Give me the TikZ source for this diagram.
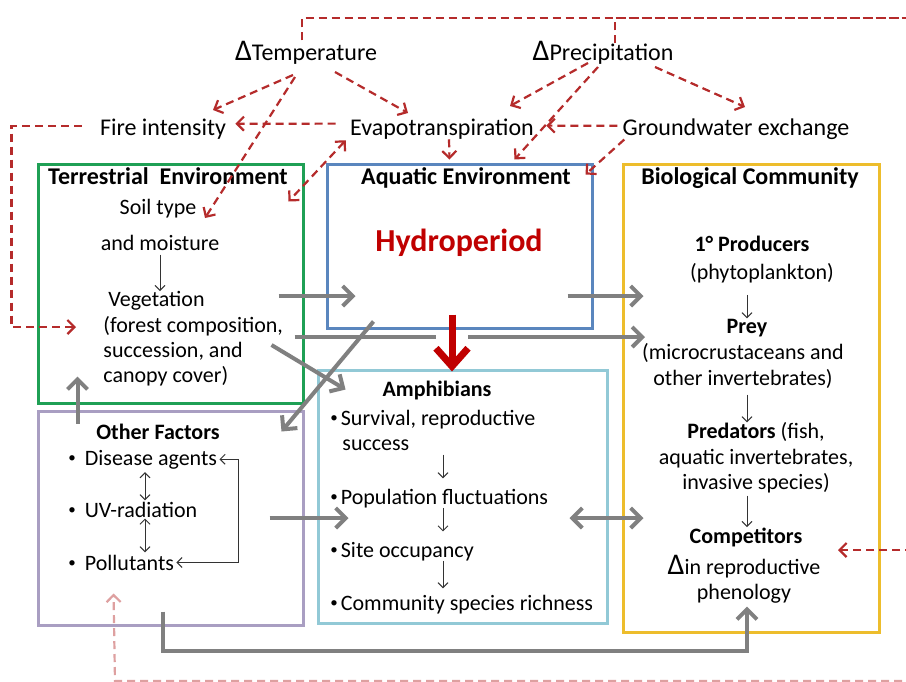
\documentclass[tikz,border=0pt]{standalone}
\usepackage{fontspec}
\setmainfont{Carlito}
\usetikzlibrary{arrows.meta, calc, fit}
\definecolor{dashred}{HTML}{B52B2B}
\definecolor{hydrored}{HTML}{C00000}
\definecolor{arrgray}{HTML}{808080}
\definecolor{terrgreen}{HTML}{1FA055}
\definecolor{aquablue}{HTML}{5A86BE}
\definecolor{biolyellow}{HTML}{EDBD2C}
\definecolor{amphcyan}{HTML}{92C9D6}
\definecolor{othpurple}{HTML}{A99EC2}
\newcommand{\chg}{{\fontsize{15}{15}\selectfont Δ}}
\newcommand{\itm}{\raisebox{0.25ex}{\fontsize{7.5}{7.5}\selectfont •}}

\begin{document}
\begin{tikzpicture}[x=0.5pt, y=-0.5pt,
    frm/.style={rectangle, line width=1.5pt, inner sep=0pt},
    lbl/.style={inner sep=0pt, anchor=base, font=\fontsize{12}{14}\selectfont},
    txt/.style={inner sep=0pt, anchor=base, font=\fontsize{11}{13}\selectfont},
    blk/.style={inner sep=0pt, align=center, font=\fontsize{11}{12.7}\selectfont},
    ttl/.style={inner sep=0pt, anchor=base, font=\fontsize{12}{14}\selectfont\bfseries},
    sub/.style={inner sep=0pt, anchor=base, font=\fontsize{11}{13}\selectfont\bfseries},
    rdash/.style={-{Straight Barb[length=3.5pt,width=7pt]}, dash pattern=on 4pt off 2.5pt, line width=1.1pt, dashred},
    garr/.style={-{Straight Barb[length=5pt,width=10pt]}, line width=2pt, arrgray},
    tarr/.style={-{Straight Barb[length=2.5pt,width=5pt]}, line width=0.5pt, black!80}
]
\path[use as bounding box, fill=white] (0,0) rectangle (906,681);

% climate drivers
\node[lbl] (temp) at (306,60) {\chg Temperature};
\node[lbl] (prec) at (603,60) {\chg Precipitation};
\node[lbl] (fire) at (163,135) {Fire intensity};
\node[lbl] (evap) at (442,135) {Evapotranspiration};
\node[lbl] (gw) at (736,135) {Groundwater exchange};

% boxes
\node[frm, draw=terrgreen, fit={(38,164)(303,403)}] (terr) {};
\node[frm, draw=aquablue, fit={(327,164)(592,328)}] (aqua) {};
\node[frm, draw=biolyellow, fit={(623,164)(879,632)}] (biol) {};
\node[frm, draw=amphcyan, fit={(318,370)(607,623)}] (amph) {};
\node[frm, draw=othpurple, fit={(38,411)(303,625)}] (othr) {};

% terrestrial
\node[ttl] (terrttl) at (168,184) {Terrestrial\ \ Environment};
\node[txt] (soil) at (158,214) {Soil type};
\node[txt] (moist) at (160,250) {and moisture};
\node[blk, align=left, anchor=west] (veg) at (103,339) {\hspace{2.5pt}Vegetation\\(forest composition,\\succession, and\\canopy cover)};

% aquatic
\node[ttl] (aquattl) at (466,184) {Aquatic Environment};
\node[inner sep=0pt, anchor=base, font=\fontsize{16}{18}\selectfont\bfseries, text=hydrored] (hydro) at (459,251) {Hydroperiod};

% biological
\node[ttl] (bioltl) at (750,184) {Biological Community};
\node[sub] (prod) at (752,251) {1° Producers};
\node[txt] (phyto) at (762,279) {(phytoplankton)};
\node[sub] (prey) at (747,333) {Prey};
\node[blk] (preyd) at (743,366) {(microcrustaceans and\\other invertebrates)};
\node[blk] (pred) at (756,458) {\textbf{Predators} (fish,\\aquatic invertebrates,\\invasive species)};
\node[sub] (comp) at (746,543) {Competitors};
\node[blk] (phen) at (744,579) {\chg in reproductive\\phenology};

% other factors
\node[sub] (othttl) at (158,439) {Other Factors};
\node[txt, anchor=base west] (dis) at (68,465) {\itm\hspace{4.5pt}Disease agents};
\node[txt, anchor=base west] (uv) at (68,517) {\itm\hspace{4.5pt}UV-radiation};
\node[txt, anchor=base west] (pol) at (68,570) {\itm\hspace{4.5pt}Pollutants};

% amphibians
\node[sub] (amphttl) at (437,396) {Amphibians};
\node[txt, anchor=base west] (surv) at (330,425) {\itm\hspace{1.5pt}Survival, reproductive};
\node[txt, anchor=base west] (succ) at (342,450) {success};
\node[txt, anchor=base west] (popf) at (330,504) {\itm\hspace{1.5pt}Population fluctuations};
\node[txt, anchor=base west] (site) at (330,557) {\itm\hspace{1.5pt}Site occupancy};
\node[txt, anchor=base west] (comm) at (330,610) {\itm\hspace{1.5pt}Community species richness};

% loop coordinates
\coordinate (looptr) at (914,18);
\coordinate (loopr) at (914,550);
\coordinate (loopbl) at (115,681);

% dashed climate links
\draw[rdash] ($(temp.base)+(-13,15)$) -- ($(fire.base)+(50,-25)$);
\draw[rdash] ($(temp.base)+(-11,17)$) -- ($(soil.base)+(47,4)$);
\draw[rdash] ($(temp.base)+(29,12)$) -- ($(evap.base)+(-34,-22)$);
\draw[rdash] ($(evap.west)+(-14,-5)$) -- ($(fire.east)+(9,-5)$);
\draw[rdash, {Straight Barb[length=3.5pt,width=7pt]}-{Straight Barb[length=3.5pt,width=7pt]}] ($(evap.south west)+(-4,1)$) -- ($(terr.north east)+(-16,39)$);
\draw[rdash] ($(evap.south)+(7,0)$) -- ($(aqua.north)+(-10,-3)$);
\draw[rdash] ($(prec.base)+(-15,3)$) -- ($(evap.base)+(68,-29)$);
\draw[rdash] ($(prec.base)+(-5,7)$) -- ($(aqua.north)+(55,-3)$);
\draw[rdash] ($(prec.base)+(52,7)$) -- ($(gw.base)+(9,-28)$);
\draw[rdash] ($(gw.west)+(-5,-3)$) -- ($(evap.east)+(12,-3)$);
\draw[rdash] ($(gw.south west)+(2,0)$) -- ($(aqua.north east)+(-8,12)$);
\draw[rdash] ($(fire.west)+(-18,-3)$) -| ($(terr.west)+(-25,0)$) |- ($(veg.west)+(-27,-12)$);
\draw[rdash, -] ($(temp.north)+(-4,0)$) |- (looptr);
\draw[rdash, -] ($(prec.north)+(12,3)$) |- (looptr);
\draw[rdash] (looptr) |- ($(comp.base)+(92,7)$);
\draw[rdash, dashred!45] (loopr) |- (loopbl) -- ($(othr.south west)+(77,-33)$);

% main flows
\draw[garr] ($(terr.east)+(-26,12.5)$) -- ($(aqua.west)+(30,50)$);
\draw[garr] ($(aqua.east)+(-26,50)$) -- ($(biol.west)+(22,-102)$);
\draw[garr] ($(terr.east)+(-10,53.5)$) -- ($(prey.base)+(-102,4)$);
\draw[garr] ($(terr.east)+(-33,61.5)$) -- ($(amph.north west)+(29,21)$);
\draw[garr] ($(aqua.south west)+(48,-8)$) -- ($(othr.north east)+(-23,22)$);
\draw[garr] ($(othr.north west)+(41,14)$) -- ($(terr.south west)+(41,-28)$);
\draw[garr] ($(othr.east)+(-35,0)$) -- ($(amph.west)+(32,21.5)$);
\draw[garr, {Straight Barb[length=5pt,width=10pt]}-{Straight Barb[length=5pt,width=10pt]}] ($(amph.east)+(-39,21.5)$) -- ($(biol.west)+(22,120)$);
\draw[garr] ($(othr.south)+(-8,-15)$) |- ($(biol.south)+(-4,17)$) -- ($(biol.south)+(-4,-27)$);
\draw[white, line width=16pt] ($(aqua.south)+(-7.5,2)$) -- ($(aqua.south)+(-7.5,16)$);
\draw[line width=3.5pt, hydrored, -{Straight Barb[length=9pt,width=16pt]}] ($(aqua.south)+(-7.5,-15)$) -- ($(amph.north)+(-10.5,3)$);

% thin links inside boxes
\draw[tarr, shorten <=2pt] (moist.south) -- (moist.south |- veg.north);
\draw[tarr, shorten <=6pt] (prey.north |- phyto.south) -- (prey.north);
\draw[tarr, shorten <=3pt] ($(preyd.south)+(4,0)$) -- ($(preyd.south |- pred.north)+(4,0)$);
\draw[tarr, shorten <=1pt] ($(pred.south)+(-9,0)$) -- ($(pred.south |- comp.north)+(-9,0)$);
\draw[tarr, shorten <=2pt, shorten >=5pt] ($(succ.south west)+(101,0)$) -- ($(popf.north west)+(113,0)$);
\draw[tarr, shorten >=5pt] ($(popf.south west)+(113,0)$) -- ($(site.north west)+(113,0)$);
\draw[tarr, shorten >=3pt] ($(site.south west)+(113,0)$) -- ($(comm.north west)+(113,0)$);
\draw[tarr, <->, >={Straight Barb[length=2.5pt,width=5pt]}] ($(dis.south west)+(77,3)$) -- ($(uv.north west)+(77,-1)$);
\draw[tarr, <->, >={Straight Barb[length=2.5pt,width=5pt]}] ($(uv.south west)+(77,1)$) -- ($(pol.north west)+(77,-2)$);
\draw[tarr, <->, >={Straight Barb[length=2.5pt,width=5pt]}] ($(dis.east)+(2,0)$) -| ($(othr.east)+(-66,0)$) |- ($(pol.east)+(2,0)$);
\end{tikzpicture}
\end{document}
